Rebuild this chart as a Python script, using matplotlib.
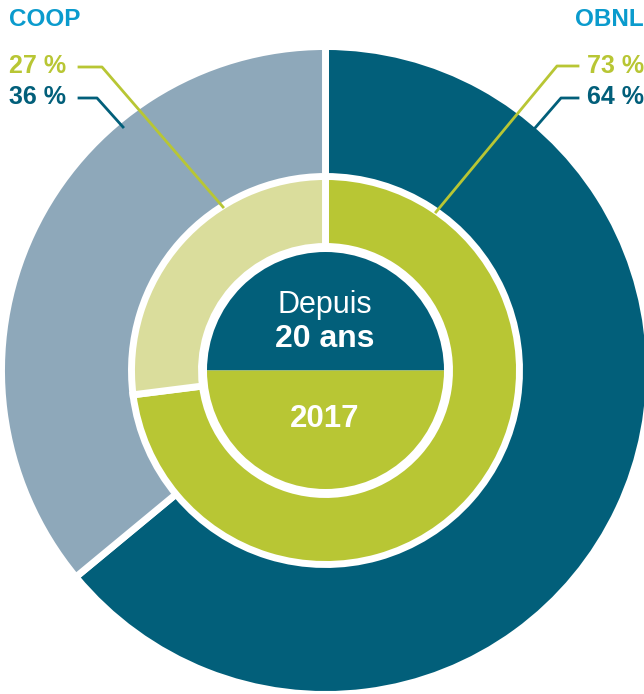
import matplotlib.pyplot as plt

# data
outer_labels = ['OBNL', 'COOP']
outer_values = [64, 36]      # depuis 20 ans
inner_values = [73, 27]      # 2017
outer_colors = ['#025f7a', '#8ea8ba']
inner_colors = ['#b8c634', '#dadd9c']
center_colors = ['#025f7a', '#b8c634']

W, H = 644, 694
cx, cy = 325.5, H - 370.5

fig = plt.figure(figsize=(W / 100, H / 100), dpi=100)
ax = fig.add_axes([0, 0, 1, 1])

font = ['Liberation Sans', 'DejaVu Sans']

# outer ring
ax.pie(outer_values, colors=outer_colors, radius=324, center=(cx, cy),
       startangle=90, counterclock=False, frame=True,
       wedgeprops=dict(width=132, edgecolor='white', linewidth=5))
# inner ring
ax.pie(inner_values, colors=inner_colors, radius=194, center=(cx, cy),
       startangle=90, counterclock=False, frame=True,
       wedgeprops=dict(width=70, edgecolor='white', linewidth=5))
# centre disk, split in two halves
ax.pie([50, 50], colors=center_colors, radius=118.5, center=(cx, cy),
       startangle=0, counterclock=True, frame=True,
       wedgeprops=dict(edgecolor='none'))
ax.set_xlim(0, W)
ax.set_ylim(0, H)
ax.set_aspect('equal')
ax.axis('off')

ax.text(cx - 1, H - 305, 'Depuis', ha='center', va='center', color='white',
        fontsize=22, family=font)
ax.text(cx - 1, H - 339, '20 ans', ha='center', va='center', color='white',
        fontsize=23, family=font, fontweight='bold')
ax.text(cx - 1, H - 419, '2017', ha='center', va='center', color='white',
        fontsize=22.5, family=font, fontweight='bold')

# headers
ax.text(9, H - 19, 'COOP', ha='left', va='center', color='#0b9bcd',
        fontsize=17.5, family=font, fontweight='bold')
ax.text(644, H - 19, 'OBNL', ha='right', va='center', color='#0b9bcd',
        fontsize=17.5, family=font, fontweight='bold')

# percentage labels with leader lines
ax.text(9, H - 66, f'{inner_values[1]} %', ha='left', va='center',
        color=inner_colors[0], fontsize=18, family=font, fontweight='bold')
ax.text(9, H - 97, f'{outer_values[1]} %', ha='left', va='center',
        color=outer_colors[0], fontsize=18, family=font, fontweight='bold')
ax.text(644, H - 66, f'{inner_values[0]} %', ha='right', va='center',
        color=inner_colors[0], fontsize=18, family=font, fontweight='bold')
ax.text(644, H - 97, f'{outer_values[0]} %', ha='right', va='center',
        color=outer_colors[0], fontsize=18, family=font, fontweight='bold')

ax.plot([79, 102, 223], [H - 67, H - 67, H - 207], color=inner_colors[0], lw=2)
ax.plot([79, 97, 123], [H - 98, H - 98, H - 127], color=outer_colors[0], lw=2)
ax.plot([578, 557, 436], [H - 66, H - 66, H - 212], color=inner_colors[0], lw=2)
ax.plot([578, 561, 535], [H - 98, H - 98, H - 128], color=outer_colors[0], lw=2)

fig.savefig('out.png', dpi=100, facecolor='white')
